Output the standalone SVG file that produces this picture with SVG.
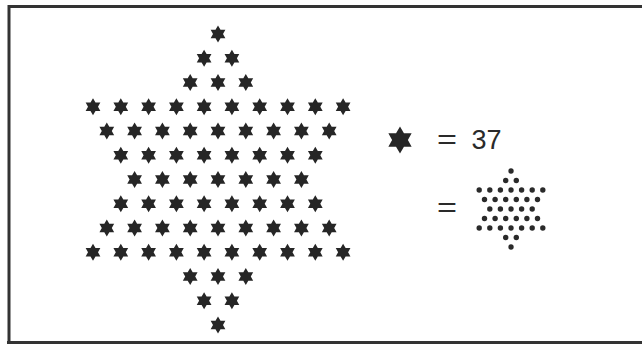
<svg xmlns="http://www.w3.org/2000/svg" xmlns:xlink="http://www.w3.org/1999/xlink" width="642" height="344" viewBox="0 0 642 344">
<style>
.frame{fill:none;stroke:#333;stroke-width:3}
.st{fill:#262626}
.dt{fill:#2a2a2a}
.t{font-family:"Liberation Sans",Arial,sans-serif;font-size:27px;fill:#2a2a2a}
</style>
<defs>
<path id="s" d="M0,-8.5 L2.5,-4.33 L7.36,-4.25 L5,0 L7.36,4.25 L2.5,4.33 L0,8.5 L-2.5,4.33 L-7.36,4.25 L-5,0 L-7.36,-4.25 L-2.5,-4.33Z"/>
<circle id="d" r="2.7"/>
</defs>
<rect width="642" height="344" fill="#fff"/>
<g id="frame">
<path class="frame" d="M9,344 V6.5 H642"/>
<path class="frame" d="M7,342.5 H642"/>
</g>
<g id="big-hexagram" class="st">
<use xlink:href="#s" x="218" y="34"/>
<use xlink:href="#s" x="204.1" y="58.25"/><use xlink:href="#s" x="231.9" y="58.25"/>
<use xlink:href="#s" x="190.2" y="82.5"/><use xlink:href="#s" x="218" y="82.5"/><use xlink:href="#s" x="245.8" y="82.5"/>
<use xlink:href="#s" x="93" y="106.75"/><use xlink:href="#s" x="120.8" y="106.75"/><use xlink:href="#s" x="148.6" y="106.75"/><use xlink:href="#s" x="176.4" y="106.75"/><use xlink:href="#s" x="204.1" y="106.75"/><use xlink:href="#s" x="231.9" y="106.75"/><use xlink:href="#s" x="259.7" y="106.75"/><use xlink:href="#s" x="287.5" y="106.75"/><use xlink:href="#s" x="315.3" y="106.75"/><use xlink:href="#s" x="343.1" y="106.75"/>
<use xlink:href="#s" x="106.8" y="131"/><use xlink:href="#s" x="134.6" y="131"/><use xlink:href="#s" x="162.4" y="131"/><use xlink:href="#s" x="190.2" y="131"/><use xlink:href="#s" x="218" y="131"/><use xlink:href="#s" x="245.8" y="131"/><use xlink:href="#s" x="273.6" y="131"/><use xlink:href="#s" x="301.4" y="131"/><use xlink:href="#s" x="329.2" y="131"/>
<use xlink:href="#s" x="120.8" y="155.25"/><use xlink:href="#s" x="148.6" y="155.25"/><use xlink:href="#s" x="176.4" y="155.25"/><use xlink:href="#s" x="204.1" y="155.25"/><use xlink:href="#s" x="231.9" y="155.25"/><use xlink:href="#s" x="259.7" y="155.25"/><use xlink:href="#s" x="287.5" y="155.25"/><use xlink:href="#s" x="315.3" y="155.25"/>
<use xlink:href="#s" x="134.6" y="179.5"/><use xlink:href="#s" x="162.4" y="179.5"/><use xlink:href="#s" x="190.2" y="179.5"/><use xlink:href="#s" x="218" y="179.5"/><use xlink:href="#s" x="245.8" y="179.5"/><use xlink:href="#s" x="273.6" y="179.5"/><use xlink:href="#s" x="301.4" y="179.5"/>
<use xlink:href="#s" x="120.8" y="203.75"/><use xlink:href="#s" x="148.6" y="203.75"/><use xlink:href="#s" x="176.4" y="203.75"/><use xlink:href="#s" x="204.1" y="203.75"/><use xlink:href="#s" x="231.9" y="203.75"/><use xlink:href="#s" x="259.7" y="203.75"/><use xlink:href="#s" x="287.5" y="203.75"/><use xlink:href="#s" x="315.3" y="203.75"/>
<use xlink:href="#s" x="106.8" y="228"/><use xlink:href="#s" x="134.6" y="228"/><use xlink:href="#s" x="162.4" y="228"/><use xlink:href="#s" x="190.2" y="228"/><use xlink:href="#s" x="218" y="228"/><use xlink:href="#s" x="245.8" y="228"/><use xlink:href="#s" x="273.6" y="228"/><use xlink:href="#s" x="301.4" y="228"/><use xlink:href="#s" x="329.2" y="228"/>
<use xlink:href="#s" x="93" y="252.25"/><use xlink:href="#s" x="120.8" y="252.25"/><use xlink:href="#s" x="148.6" y="252.25"/><use xlink:href="#s" x="176.4" y="252.25"/><use xlink:href="#s" x="204.1" y="252.25"/><use xlink:href="#s" x="231.9" y="252.25"/><use xlink:href="#s" x="259.7" y="252.25"/><use xlink:href="#s" x="287.5" y="252.25"/><use xlink:href="#s" x="315.3" y="252.25"/><use xlink:href="#s" x="343.1" y="252.25"/>
<use xlink:href="#s" x="190.2" y="276.5"/><use xlink:href="#s" x="218" y="276.5"/><use xlink:href="#s" x="245.8" y="276.5"/>
<use xlink:href="#s" x="204.1" y="300.75"/><use xlink:href="#s" x="231.9" y="300.75"/>
<use xlink:href="#s" x="218" y="325"/>
</g>
<g id="legend-star">
<use xlink:href="#s" class="st" transform="translate(400,140) scale(1.58)"/>
<text class="t" x="437" y="149" textLength="20" lengthAdjust="spacingAndGlyphs">=</text>
<text class="t" x="471.5" y="149">37</text>
</g>
<g id="legend-dots">
<text class="t" x="437" y="217" textLength="20" lengthAdjust="spacingAndGlyphs">=</text>
<g class="dt">
<use xlink:href="#d" x="511" y="171"/>
<use xlink:href="#d" x="505.7" y="180.5"/><use xlink:href="#d" x="516.3" y="180.5"/>
<use xlink:href="#d" x="479.2" y="190"/><use xlink:href="#d" x="489.8" y="190"/><use xlink:href="#d" x="500.4" y="190"/><use xlink:href="#d" x="511" y="190"/><use xlink:href="#d" x="521.6" y="190"/><use xlink:href="#d" x="532.2" y="190"/><use xlink:href="#d" x="542.8" y="190"/>
<use xlink:href="#d" x="484.5" y="199.5"/><use xlink:href="#d" x="495.1" y="199.5"/><use xlink:href="#d" x="505.7" y="199.5"/><use xlink:href="#d" x="516.3" y="199.5"/><use xlink:href="#d" x="526.9" y="199.5"/><use xlink:href="#d" x="537.5" y="199.5"/>
<use xlink:href="#d" x="489.8" y="209"/><use xlink:href="#d" x="500.4" y="209"/><use xlink:href="#d" x="511" y="209"/><use xlink:href="#d" x="521.6" y="209"/><use xlink:href="#d" x="532.2" y="209"/>
<use xlink:href="#d" x="484.5" y="218.5"/><use xlink:href="#d" x="495.1" y="218.5"/><use xlink:href="#d" x="505.7" y="218.5"/><use xlink:href="#d" x="516.3" y="218.5"/><use xlink:href="#d" x="526.9" y="218.5"/><use xlink:href="#d" x="537.5" y="218.5"/>
<use xlink:href="#d" x="479.2" y="228"/><use xlink:href="#d" x="489.8" y="228"/><use xlink:href="#d" x="500.4" y="228"/><use xlink:href="#d" x="511" y="228"/><use xlink:href="#d" x="521.6" y="228"/><use xlink:href="#d" x="532.2" y="228"/><use xlink:href="#d" x="542.8" y="228"/>
<use xlink:href="#d" x="505.7" y="237.5"/><use xlink:href="#d" x="516.3" y="237.5"/>
<use xlink:href="#d" x="511" y="247"/>
</g>
</g>
</svg>
